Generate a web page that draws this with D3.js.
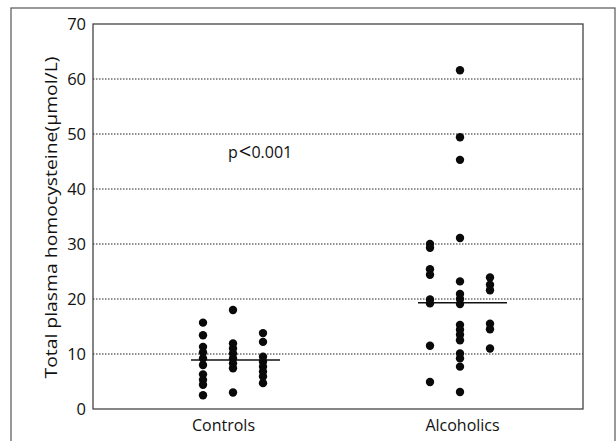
<!DOCTYPE html>
<html>
<head>
<meta charset="utf-8">
<script src="https://cdn.jsdelivr.net/npm/d3@7"></script>
<style>
  body { margin: 0; background: #fff; }
  text { font-family: "Open Sans", sans-serif; fill: #111; }
</style>
</head>
<body>
<svg id="chart" width="616" height="441"></svg>
<script>
// groups on the x axis
var groups = ["Controls", "Alcoholics"];

// values, one array per dot column (left, middle, right)
var controlsLeft   = [15.7, 13.4, 11.3, 10.3, 9.2, 8.0, 6.3, 5.3, 4.4, 2.5];
var controlsMiddle = [18.0, 11.9, 11.0, 10.1, 9.2, 8.3, 7.4, 3.0];
var controlsRight  = [13.8, 12.2, 9.5, 8.6, 7.7, 6.8, 5.9, 4.7];

var alcoholicsLeft   = [30.0, 29.3, 25.4, 24.4, 19.9, 19.2, 11.5, 4.9];
var alcoholicsMiddle = [61.6, 49.4, 45.3, 31.1, 23.2, 20.9, 20.0, 19.1,
                        15.3, 14.4, 13.5, 12.5, 10.1, 9.2, 7.7, 3.1];
var alcoholicsRight  = [23.9, 22.6, 21.6, 15.5, 14.5, 11.0];

// horizontal median bars
var medians = [8.9, 19.3];

var yTicks = [0, 10, 20, 30, 40, 50, 60, 70];
var gridTicks = [10, 20, 30, 40, 50, 60];
var yLabel = "Total plasma homocysteine(\u03bcmol/L)";

var columns = [
    { group: "Controls", col: -1, values: controlsLeft },
    { group: "Controls", col: 0, values: controlsMiddle },
    { group: "Controls", col: 1, values: controlsRight },
    { group: "Alcoholics", col: -1, values: alcoholicsLeft },
    { group: "Alcoholics", col: 0, values: alcoholicsMiddle },
    { group: "Alcoholics", col: 1, values: alcoholicsRight }
];

var svg = d3.select("#chart"),
    margin = { top: 24, right: 33, bottom: 32, left: 93 },
    width = 616 - margin.left - margin.right,
    height = 441 - margin.top - margin.bottom;

// outer figure frame
svg.append("rect")
    .attr("x", 11).attr("y", 8)
    .attr("width", 604).attr("height", 445)
    .attr("fill", "none")
    .attr("stroke", "#555")
    .attr("stroke-width", 1.2);

var g = svg.append("g").attr("transform", "translate(" + margin.left + "," + margin.top + ")");

var x = d3.scalePoint().domain(groups).range([140, 367]),
    y = d3.scaleLinear().domain([0, 70]).range([height, 0]),
    colStep = 30;

// dotted grid lines
g.selectAll(".grid")
    .data(gridTicks)
    .enter().append("line")
    .attr("class", "grid")
    .attr("x1", 0).attr("x2", width)
    .attr("y1", function(d) { return y(d); })
    .attr("y2", function(d) { return y(d); })
    .attr("stroke", "#222")
    .attr("stroke-width", 1)
    .attr("stroke-dasharray", "1.5,1.5");

// plot frame
g.append("rect")
    .attr("width", width).attr("height", height)
    .attr("fill", "none")
    .attr("stroke", "#444")
    .attr("stroke-width", 1.3);

// y axis tick labels only, no tick marks
var yAxis = g.append("g")
    .call(d3.axisLeft(y).tickValues(yTicks).tickSize(0).tickPadding(7));
yAxis.select(".domain").remove();
yAxis.selectAll("text")
    .style("font-size", "16.5px")
    .style("font-family", "'Open Sans', sans-serif")
    .attr("fill", "#111");

// x axis category labels
var xAxis = g.append("g")
    .attr("transform", "translate(0," + height + ")")
    .call(d3.axisBottom(x).tickSize(0).tickPadding(11));
xAxis.select(".domain").remove();
xAxis.selectAll("text")
    .style("font-size", "16px")
    .style("font-family", "'Open Sans', sans-serif")
    .attr("fill", "#111")
    .attr("dx", function(d) { return d == "Controls" ? -10 : 2; });

// y axis title
svg.append("text")
    .attr("transform", "translate(57," + (margin.top + height / 2 + 1) + ") rotate(-90)")
    .attr("text-anchor", "middle")
    .attr("textLength", 322)
    .attr("lengthAdjust", "spacingAndGlyphs")
    .style("font-size", "16.5px")
    .text(yLabel);

// median bars
g.selectAll(".median")
    .data(groups)
    .enter().append("line")
    .attr("class", "median")
    .attr("x1", function(d) { return x(d) - 42; })
    .attr("x2", function(d) { return x(d) + 47; })
    .attr("y1", function(d, i) { return y(medians[i]); })
    .attr("y2", function(d, i) { return y(medians[i]); })
    .attr("stroke", "#111")
    .attr("stroke-width", 1.5);

// dots
var colGroup = g.selectAll(".column")
    .data(columns)
    .enter().append("g")
    .attr("class", "column");

colGroup.selectAll("circle")
    .data(function(c) { return c.values.map(function(v) { return { c: c, v: v }; }); })
    .enter().append("circle")
    .attr("cx", function(d) { return x(d.c.group) + d.c.col * colStep; })
    .attr("cy", function(d) { return y(d.v); })
    .attr("r", 4.2)
    .attr("fill", "#0a0a0a");

// significance note
var note = g.append("text")
    .attr("x", x("Controls") - 5)
    .attr("y", y(45.7))
    .style("font-size", "16px");
note.append("tspan").text("p");
note.append("tspan").style("font-size", "22px").attr("dy", 1).attr("dx", 1).text("<");
note.append("tspan").attr("dy", -1).text("0.001");
</script>
</body>
</html>
